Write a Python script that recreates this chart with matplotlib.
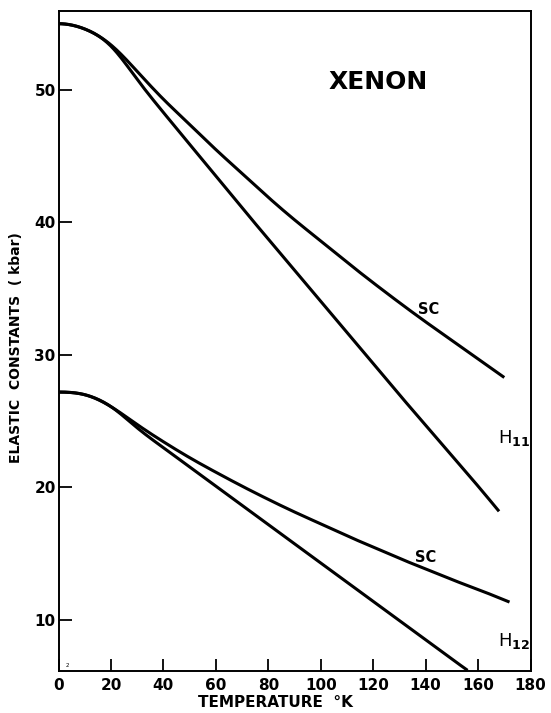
import numpy as np
import matplotlib
matplotlib.use("Agg")
import matplotlib.pyplot as plt

# Elastic constants of xenon vs temperature (kbar)
t_sc_11 = [0, 10, 20, 30, 40, 50, 60, 70, 80, 90, 100, 110, 120, 130, 140, 150, 160, 170]
c_sc_11 = [55.0, 54.6, 53.4, 51.4, 49.3, 47.4, 45.5, 43.7, 41.9, 40.2, 38.6, 37.0, 35.45,
           33.95, 32.5, 31.1, 29.7, 28.3]

t_h_11 = [0, 10, 20, 30, 40, 50, 60, 70, 80, 90, 100, 110, 120, 130, 140, 150, 160, 168]
c_h_11 = [55.0, 54.6, 53.3, 50.8, 48.3, 45.9, 43.5, 41.1, 38.75, 36.4, 34.05, 31.7, 29.35,
          27.0, 24.7, 22.4, 20.1, 18.2]

t_sc_12 = [0, 10, 20, 30, 40, 50, 60, 70, 80, 90, 100, 110, 120, 130, 140, 150, 160, 172]
c_sc_12 = [27.2, 27.0, 26.1, 24.75, 23.45, 22.25, 21.15, 20.1, 19.1, 18.15, 17.25, 16.35,
           15.5, 14.65, 13.85, 13.05, 12.3, 11.35]

t_h_12 = [0, 10, 20, 30, 40, 50, 60, 70, 80, 90, 100, 110, 120, 130, 140, 150, 156]
c_h_12 = [27.2, 27.0, 26.1, 24.5, 23.0, 21.55, 20.1, 18.65, 17.2, 15.75, 14.3, 12.85, 11.4,
          9.95, 8.5, 7.05, 6.2]

xticks = [0, 20, 40, 60, 80, 100, 120, 140, 160, 180]
yticks = [10, 20, 30, 40, 50]


def spline(t, c, n=400):
    # cubic spline, zero slope at T = 0, natural at the far end
    x = np.asarray(t, float)
    y = np.asarray(c, float)
    m = len(x)
    h = np.diff(x)
    A = np.zeros((m, m))
    b = np.zeros(m)
    A[0, 0], A[0, 1] = 2 * h[0], h[0]
    b[0] = 6 * ((y[1] - y[0]) / h[0] - 0.0)
    for i in range(1, m - 1):
        A[i, i - 1] = h[i - 1]
        A[i, i] = 2 * (h[i - 1] + h[i])
        A[i, i + 1] = h[i]
        b[i] = 6 * ((y[i + 1] - y[i]) / h[i] - (y[i] - y[i - 1]) / h[i - 1])
    A[-1, -1] = 1.0
    M = np.linalg.solve(A, b)
    xx = np.linspace(x[0], x[-1], n)
    k = np.clip(np.searchsorted(x, xx) - 1, 0, m - 2)
    dx1 = x[k + 1] - xx
    dx0 = xx - x[k]
    hk = h[k]
    yy = (M[k] * dx1 ** 3 / (6 * hk) + M[k + 1] * dx0 ** 3 / (6 * hk)
          + (y[k] / hk - M[k] * hk / 6) * dx1 + (y[k + 1] / hk - M[k + 1] * hk / 6) * dx0)
    return xx, yy


fig = plt.figure(figsize=(5.51, 7.13), dpi=100)
ax = fig.add_axes([0.1062, 0.0593, 0.8566, 0.9253])

for t, c in [(t_sc_11, c_sc_11), (t_h_11, c_h_11), (t_sc_12, c_sc_12), (t_h_12, c_h_12)]:
    x, y = spline(t, c)
    ax.plot(x, y, color="black", lw=2.2, solid_capstyle="butt")

ax.set_xlim(0, 180)
ax.set_ylim(6.17, 55.96)
ax.set_xticks(xticks)
ax.set_yticks(yticks)
ax.tick_params(direction="in", length=9, width=1.3, labelsize=11)
ax.tick_params(axis="y", pad=2)
ax.tick_params(axis="x", pad=5)
for lab in ax.get_xticklabels() + ax.get_yticklabels():
    lab.set_fontweight("bold")
for s in ax.spines.values():
    s.set_linewidth(1.4)

ax.set_xlabel("TEMPERATURE  °K", fontsize=11, fontweight="bold")
ax.xaxis.set_label_coords(0.46, -0.037)
ax.set_ylabel("ELASTIC  CONSTANTS  ( kbar)", fontsize=10, fontweight="bold")
ax.yaxis.set_label_coords(-0.075, 0.49)

ax.text(122, 50.6, "XENON", fontsize=18, fontweight="bold", ha="center", va="center")
ax.text(141, 33.4, "SC", fontsize=10.5, fontweight="bold", ha="center", va="center")
ax.text(140, 14.7, "SC", fontsize=10.5, fontweight="bold", ha="center", va="center")
ax.text(173.6, 23.7, r"H$_{\mathbf{11}}$", fontsize=13, ha="center", va="center")
ax.text(173.6, 8.4, r"H$_{\mathbf{12}}$", fontsize=13, ha="center", va="center")
ax.text(3.5, 6.6, "2", fontsize=4, ha="center", va="center")

fig.savefig("out.png", dpi=100)
